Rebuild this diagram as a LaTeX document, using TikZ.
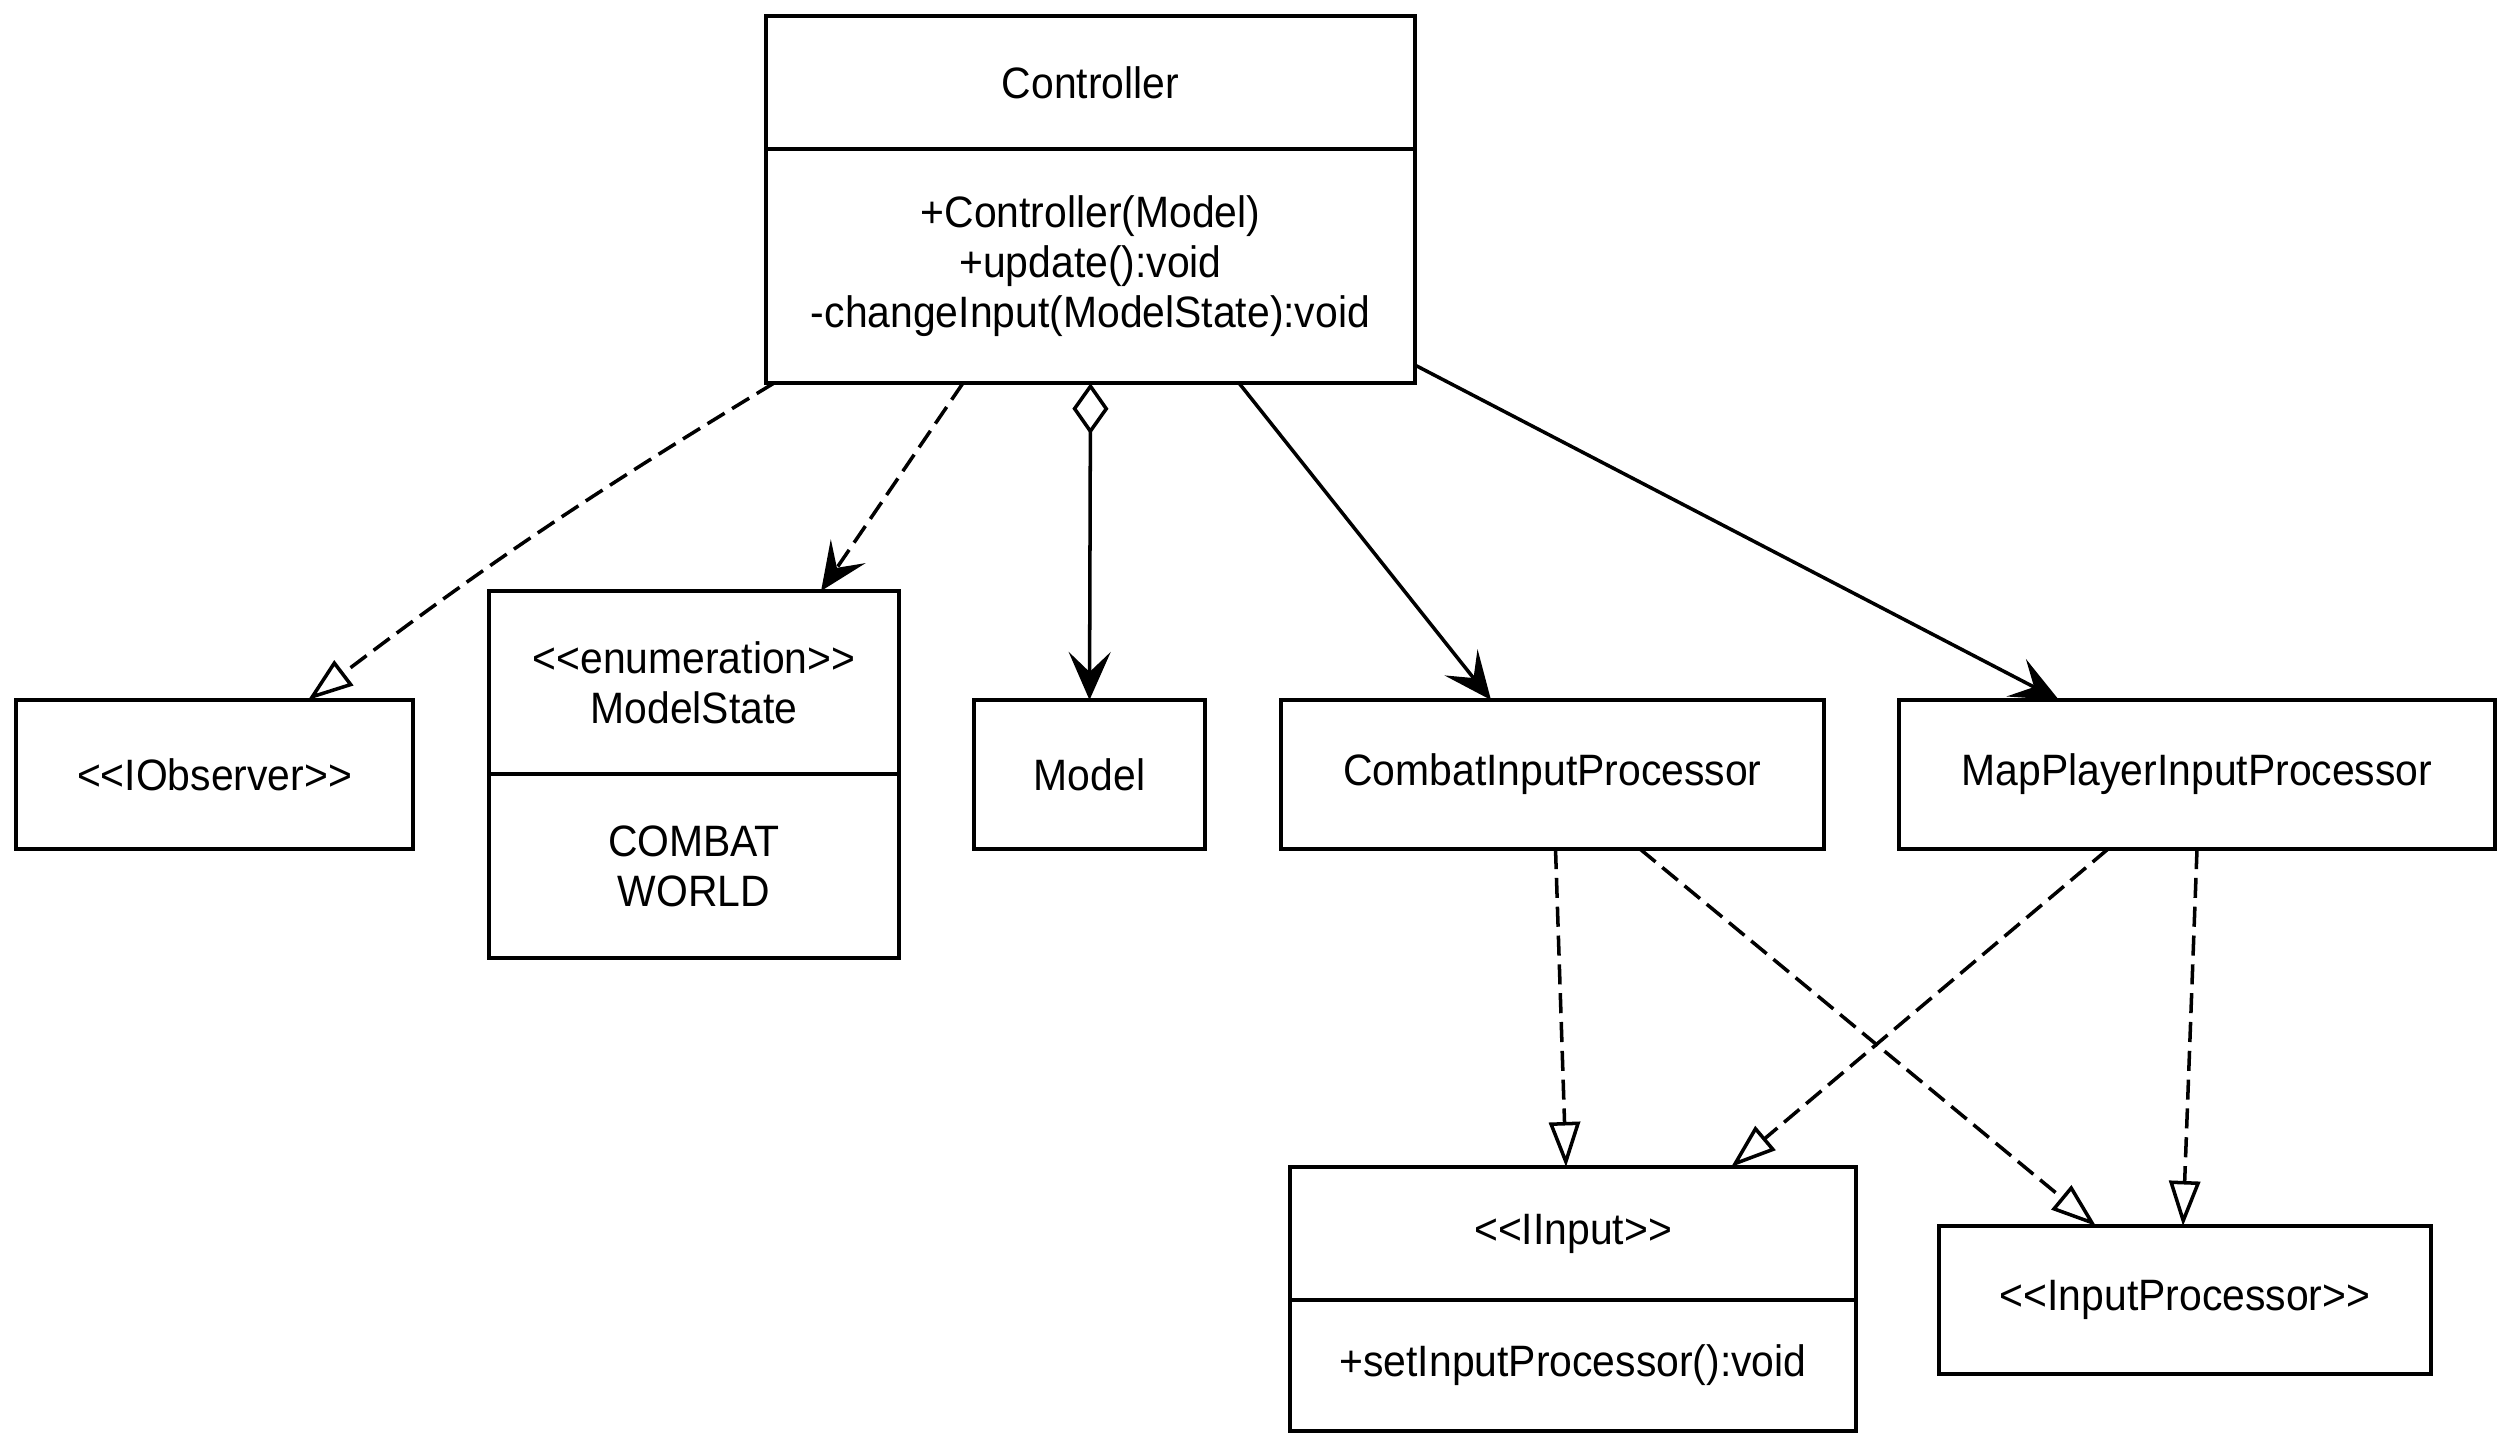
\documentclass[tikz,border=0pt]{standalone}
\usepackage{fontspec}
\newfontfamily\umlfont{Liberation Sans}[FakeStretch=0.93]
\usepackage{tikz}
\usetikzlibrary{arrows.meta, positioning}
\tikzstyle{classbox} = [rectangle, draw=black, line width=1.1pt, outer sep=0pt, inner sep=0pt, align=center, font=\umlfont\fontsize{12.5}{14.1}\selectfont]
\tikzstyle{arrow} = [line width=1pt, -{Stealth[length=0.48cm, width=0.42cm, inset=0.2cm]}]
\tikzstyle{dep} = [arrow, dash pattern=on 5.7pt off 2.5pt]
\tikzstyle{aggr} = [line width=1pt, {Diamond[open, length=0.51cm, width=0.36cm]}-{Stealth[length=0.48cm, width=0.42cm, inset=0.2cm]}]
\tikzstyle{realize} = [line width=1pt, dash pattern=on 5.7pt off 2.5pt, -{Triangle[open, length=0.45cm, width=0.31cm]}]

\begin{document}
\begin{tikzpicture}[x=0.01cm, y=-0.01cm]
  \useasboundingbox[fill=white] (0,0) rectangle (2513,1450);

  \node (ctrl) [classbox, minimum width=6.49cm, minimum height=1.33cm] at (1090.5,82.5) {Controller};
  \node (ctrlops) [classbox, minimum width=6.49cm, minimum height=2.34cm, below=0pt of ctrl] {+Controller(Model)\\+update():void\\-changeInput(ModelState):void};

  \node (observer) [classbox, minimum width=3.97cm, minimum height=1.49cm] at (214.5,774.5) {<<IObserver>>};
  \node (state) [classbox, minimum width=4.10cm, minimum height=1.83cm] at (694,682.5) {<<enumeration>>\\ModelState};
  \node (statevals) [classbox, minimum width=4.10cm, minimum height=1.84cm, below=0pt of state] {COMBAT\\WORLD};
  \node (model) [classbox, minimum width=2.31cm, minimum height=1.49cm] at (1089.5,774.5) {Model};
  \node (combat) [classbox, minimum width=5.43cm, minimum height=1.49cm] at (1552.5,774.5) {CombatInputProcessor};
  \node (mapplayer) [classbox, minimum width=5.96cm, minimum height=1.49cm] at (2197,774.5) {MapPlayerInputProcessor};

  \node (input) [classbox, minimum width=5.66cm, minimum height=1.33cm] at (1573,1233.5) {<<IInput>>};
  \node (inputops) [classbox, minimum width=5.66cm, minimum height=1.31cm, below=0pt of input] {+setInputProcessor():void};
  \node (inproc) [classbox, minimum width=4.92cm, minimum height=1.48cm] at (2185,1300) {<<InputProcessor>>};

  \draw[realize] ([xshift=0.08cm]ctrlops.south west) to[bend right=3] ([xshift=0.935cm]observer.north);
  \draw[dep] ([xshift=-1.275cm]ctrlops.south) -- ([xshift=1.27cm]state.north);
  \draw[aggr] (ctrlops.south) -- (model.north);
  \draw[arrow] ([xshift=1.485cm]ctrlops.south) -- ([xshift=-0.615cm]combat.north);
  \draw[arrow] ([yshift=0.18cm]ctrlops.south east) -- ([xshift=-1.38cm]mapplayer.north);

  \draw[realize] ([xshift=0.03cm]combat.south) -- ([xshift=-0.07cm]input.north);
  \draw[realize] ([xshift=0.875cm]combat.south) -- ([xshift=-0.89cm]inproc.north);
  \draw[realize] ([xshift=-0.89cm]mapplayer.south) -- ([xshift=1.58cm]input.north);
  \draw[realize] (mapplayer.south) -- ([xshift=-0.02cm]inproc.north);
\end{tikzpicture}
\end{document}
